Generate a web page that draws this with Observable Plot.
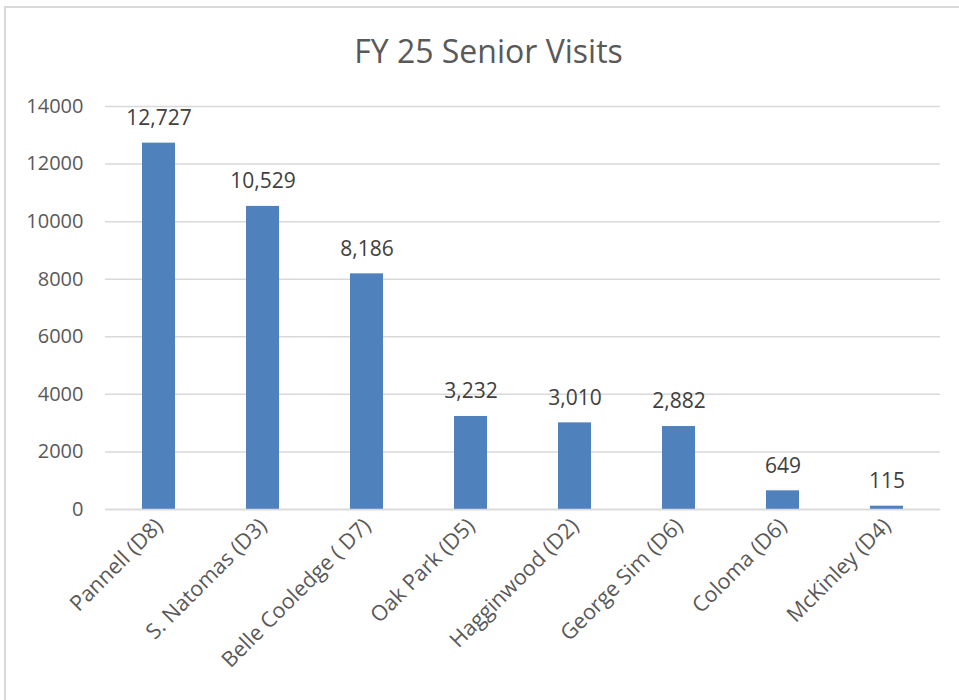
<!DOCTYPE html>
<html>
<head>
<meta charset="utf-8">
<script src="https://cdn.jsdelivr.net/npm/d3@7"></script>
<script src="https://cdn.jsdelivr.net/npm/@observablehq/plot@0.6"></script>
<style>
  html, body { margin: 0; padding: 0; background: #fff; }
  body { width: 959px; height: 700px; position: relative; overflow: hidden; font-family: "Open Sans", "Noto Sans", sans-serif; }
  #frame { position: absolute; left: 4px; top: 6px; width: 1000px; height: 800px; border-top: 2px solid #d9d9d9; border-left: 2px solid #d9d9d9; }
  #title { position: absolute; left: 0; width: 977px; top: 29px; text-align: center; font-size: 32px; color: #595959; line-height: 44px; }
  #chart { position: absolute; left: 0; top: 70px; }
</style>
</head>
<body>
<div id="frame"></div>
<div id="title">FY 25 Senior Visits</div>
<div id="chart"></div>
<script>
const sites = ["Pannell (D8)", "S. Natomas (D3)", "Belle Cooledge ( D7)", "Oak Park (D5)", "Hagginwood (D2)", "George Sim (D6)", "Coloma (D6)", "McKinley (D4)"];
const visits = [12727, 10529, 8186, 3232, 3010, 2882, 649, 115];
const yTicks = [0, 2000, 4000, 6000, 8000, 10000, 12000, 14000];

const data = sites.map((s, i) => ({site: s, visits: visits[i]}));
const fmt = d3.format(",");

const chart = Plot.plot({
  width: 959,
  height: 630,
  marginLeft: 105,
  marginRight: 19,
  marginTop: 36,
  marginBottom: 191,
  style: {fontFamily: "'Open Sans', 'Noto Sans', sans-serif", fontSize: "20px", color: "#595959", background: "transparent"},
  x: {domain: sites, paddingInner: 0.68, paddingOuter: 0.34, align: 0.5, label: null},
  y: {domain: [0, 14000], label: null},
  marks: [
    Plot.gridY(yTicks, {stroke: "#d9d9d9", strokeOpacity: 1, strokeWidth: 1.5}),
    Plot.barY(data, {x: "site", y: "visits", fill: "#4F81BD"}),
    Plot.ruleY([0], {stroke: "#d9d9d9", strokeWidth: 1.5}),
    Plot.text(data, {x: "site", y: "visits", text: d => fmt(d.visits), dy: -25, fill: "#404040", fontSize: 21}),
    Plot.axisY({ticks: yTicks, tickFormat: d => String(d), tickSize: 0, tickPadding: 22, fill: "#595959", fontSize: 20, label: null}),
    Plot.axisX({tickSize: 0, tickRotate: -45, tickPadding: 13, fill: "#595959", fontSize: 21.5, label: null})
  ]
});
document.getElementById("chart").appendChild(chart);
</script>
</body>
</html>
